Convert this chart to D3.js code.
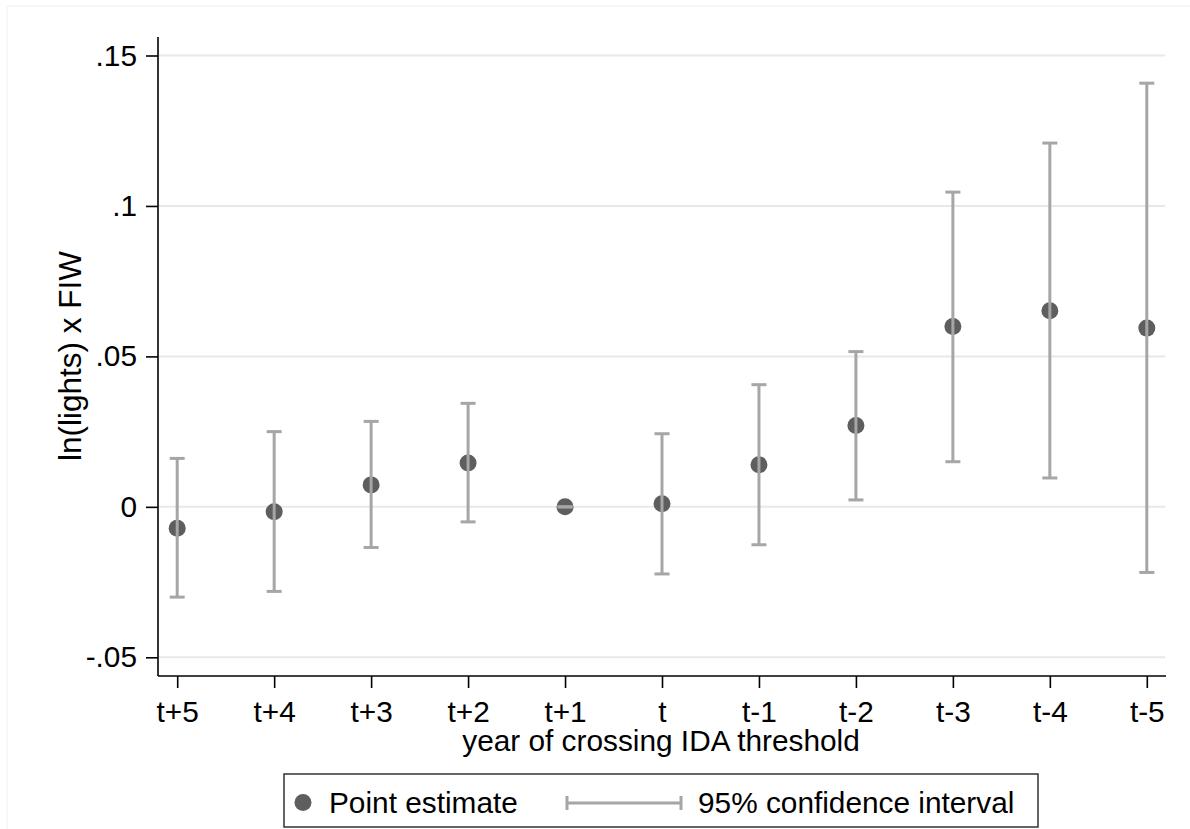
<!DOCTYPE html>
<html>
<head>
<meta charset="utf-8">
<script src="https://cdn.jsdelivr.net/npm/d3@7"></script>
<style>
  html, body { margin: 0; padding: 0; background: #fff; }
  svg { display: block; font-family: Arial, "Liberation Sans", sans-serif; }
</style>
</head>
<body>
<svg id="chart" width="1190" height="829"></svg>
<script>
// ---- data ----
const categories = ["t+5", "t+4", "t+3", "t+2", "t+1", "t", "t-1", "t-2", "t-3", "t-4", "t-5"];
const estimates  = [-0.0071, -0.0016, 0.0073, 0.0146, 0.0, 0.0010, 0.0140, 0.0270, 0.0599, 0.0652, 0.0594];
const ciLower    = [-0.0300, -0.0281, -0.0135, -0.0050, 0.0, -0.0223, -0.0126, 0.0023, 0.0150, 0.0096, -0.0218];
const ciUpper    = [0.0161, 0.0250, 0.0284, 0.0344, 0.0, 0.0243, 0.0406, 0.0516, 0.1046, 0.1209, 0.1408];
const yTicks     = [-0.05, 0, 0.05, 0.1, 0.15];
const yTickLabels = ["-.05", "0", ".05", ".1", ".15"];
const yTitle = "ln(lights) x FIW";
const xTitle = "year of crossing IDA threshold";
const legendLabels = ["Point estimate", "95% confidence interval"];

const svg = d3.select("#chart");
const plotLeft = 158, plotRight = 1166, plotTop = 37, plotBottom = 676;
const fs = 29.8;

// faint outer frame
svg.append("rect").attr("x", 7).attr("y", 6).attr("width", 1200).attr("height", 840)
  .attr("fill", "none").attr("stroke", "#efefef").attr("stroke-width", 1);

const x = d3.scalePoint().domain(categories).range([plotLeft, plotRight]).padding(0.198);
const y = d3.scaleLinear().domain([-0.05, 0.15]).range([657.3, 55.5]);

// gridlines
svg.append("g").selectAll("line").data(yTicks).join("line")
  .attr("x1", plotLeft).attr("x2", plotRight - 1)
  .attr("y1", d => y(d)).attr("y2", d => y(d))
  .attr("stroke", "#e8e8e8").attr("stroke-width", 2);

// y axis
const yAxis = d3.axisLeft(y).tickValues(yTicks)
  .tickFormat((d, i) => yTickLabels[i]).tickSize(12).tickPadding(9);
const gy = svg.append("g").attr("transform", `translate(${plotLeft},0)`).call(yAxis);
gy.select(".domain").remove();
gy.append("line").attr("x1", 0).attr("x2", 0).attr("y1", plotTop).attr("y2", plotBottom)
  .attr("stroke", "#000").attr("stroke-width", 1.6);
gy.selectAll(".tick line").attr("stroke", "#000").attr("stroke-width", 1.6);
gy.selectAll(".tick text").attr("font-size", fs).attr("fill", "#000")
  .attr("font-family", "Arial, 'Liberation Sans', sans-serif");

// x axis
const xAxis = d3.axisBottom(x).tickSize(12).tickPadding(13);
const gx = svg.append("g").attr("transform", `translate(0,${plotBottom})`).call(xAxis);
gx.select(".domain").remove();
gx.append("line").attr("x1", plotLeft).attr("x2", plotRight).attr("y1", 0).attr("y2", 0)
  .attr("stroke", "#000").attr("stroke-width", 1.6);
gx.selectAll(".tick line").attr("stroke", "#000").attr("stroke-width", 1.6);
gx.selectAll(".tick text").attr("font-size", fs).attr("fill", "#000")
  .attr("font-family", "Arial, 'Liberation Sans', sans-serif");

// axis titles
svg.append("text").attr("x", 661).attr("y", 751)
  .attr("text-anchor", "middle").attr("font-size", fs).attr("fill", "#000").text(xTitle);
svg.append("text").attr("transform", "translate(81,356) rotate(-90)")
  .attr("text-anchor", "middle").attr("font-size", 31.5).attr("fill", "#000").text(yTitle);

const rows = categories.map((c, i) => ({ c, est: estimates[i], lo: ciLower[i], hi: ciUpper[i] }));
const dotColor = "#5e5e5e", ciColor = "#a6a6a6";
const capHalf = 7.5;

// points
svg.append("g").selectAll("circle").data(rows).join("circle")
  .attr("cx", d => x(d.c)).attr("cy", d => y(d.est)).attr("r", 8.5)
  .attr("fill", dotColor);

// CIs (drawn on top of markers)
const gci = svg.append("g").attr("stroke", ciColor).attr("stroke-width", 3);
gci.selectAll("line.v").data(rows).join("line").attr("class", "v")
  .attr("x1", d => x(d.c)).attr("x2", d => x(d.c))
  .attr("y1", d => y(d.lo)).attr("y2", d => y(d.hi));
gci.selectAll("line.hi").data(rows).join("line").attr("class", "hi")
  .attr("x1", d => x(d.c) - capHalf).attr("x2", d => x(d.c) + capHalf)
  .attr("y1", d => y(d.hi)).attr("y2", d => y(d.hi));
gci.selectAll("line.lo").data(rows).join("line").attr("class", "lo")
  .attr("x1", d => x(d.c) - capHalf).attr("x2", d => x(d.c) + capHalf)
  .attr("y1", d => y(d.lo)).attr("y2", d => y(d.lo));

// legend
const lg = svg.append("g");
lg.append("rect").attr("x", 284).attr("y", 774).attr("width", 754).attr("height", 53)
  .attr("fill", "#fff").attr("stroke", "#333").attr("stroke-width", 1.5);
lg.append("circle").attr("cx", 303).attr("cy", 802.5).attr("r", 8.5).attr("fill", dotColor);
lg.append("text").attr("x", 329).attr("y", 813).attr("font-size", fs).attr("fill", "#000").text(legendLabels[0]);
lg.append("line").attr("x1", 567).attr("x2", 681).attr("y1", 803).attr("y2", 803)
  .attr("stroke", ciColor).attr("stroke-width", 3);
lg.append("line").attr("x1", 567).attr("x2", 567).attr("y1", 796).attr("y2", 810)
  .attr("stroke", ciColor).attr("stroke-width", 3);
lg.append("line").attr("x1", 681).attr("x2", 681).attr("y1", 796).attr("y2", 810)
  .attr("stroke", ciColor).attr("stroke-width", 3);
lg.append("text").attr("x", 698).attr("y", 813).attr("font-size", fs).attr("fill", "#000").text(legendLabels[1]);
</script>
</body>
</html>
